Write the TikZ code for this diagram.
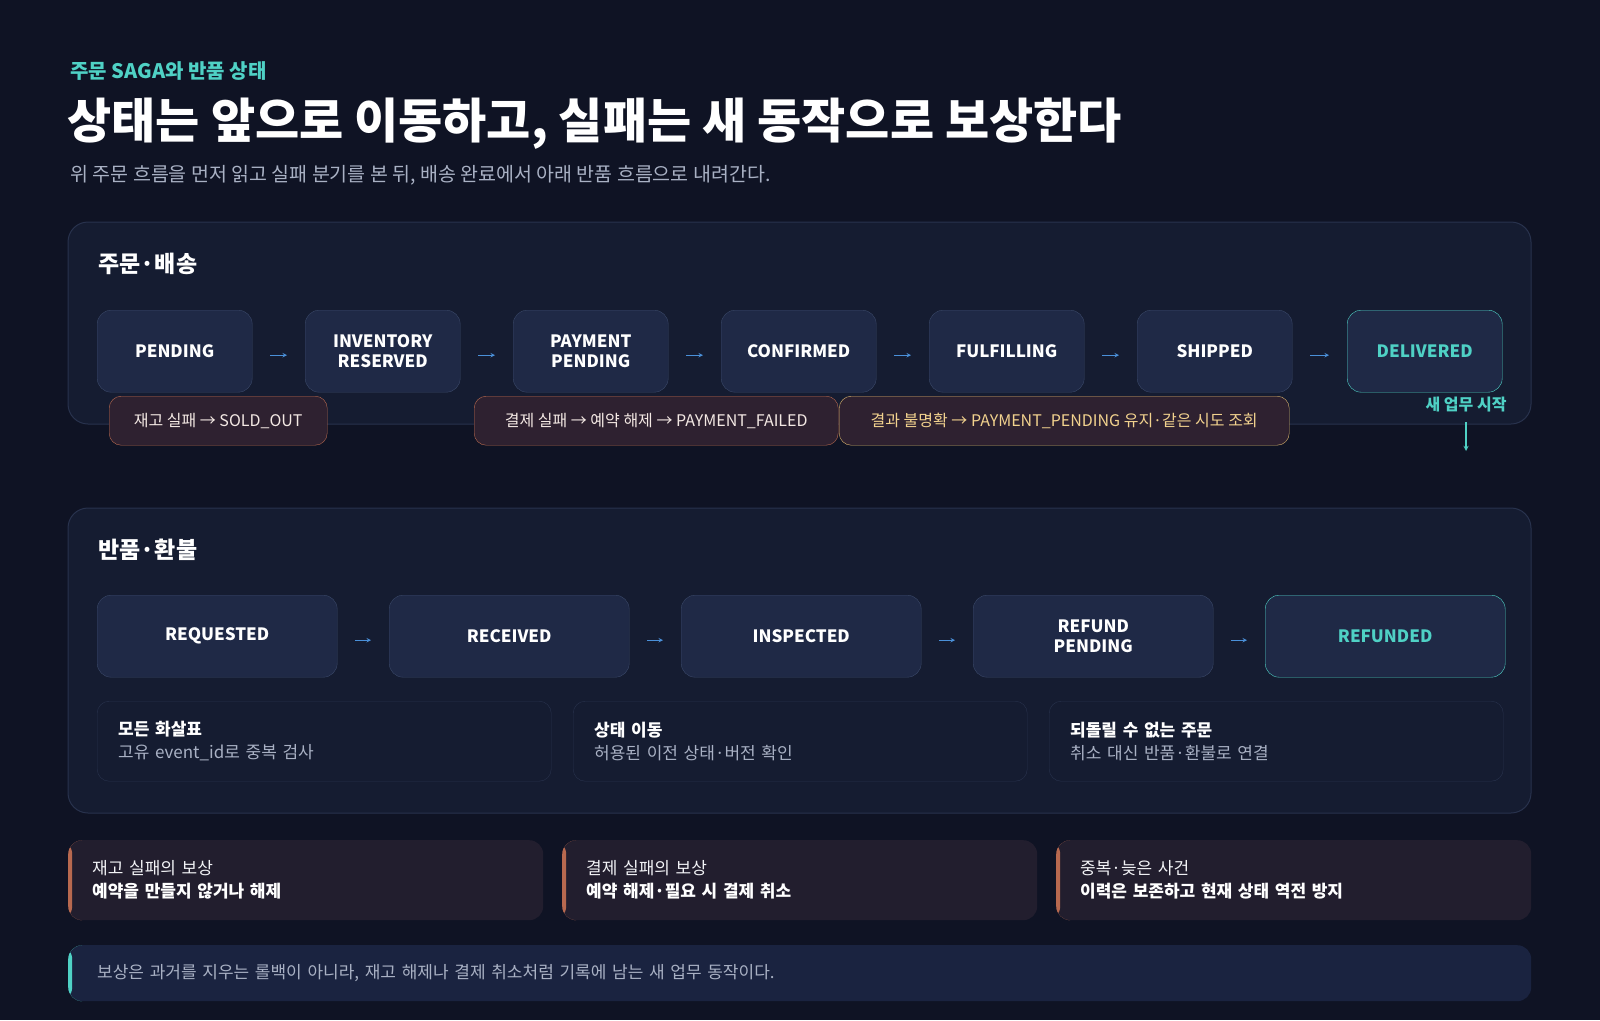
\documentclass[tikz,border=0pt]{standalone}
\usepackage{fontspec}
\setmainfont{Noto Sans CJK KR}
\usetikzlibrary{positioning}
\definecolor{bg}{HTML}{0F1324}
\definecolor{panel}{HTML}{151C31}
\definecolor{panelline}{HTML}{28324D}
\definecolor{boxfill}{HTML}{1F2946}
\definecolor{boxline}{HTML}{3A4868}
\definecolor{teal}{HTML}{4FD1C5}
\definecolor{flow}{HTML}{4A90D9}
\definecolor{muted}{HTML}{A9B1C4}
\definecolor{rust}{HTML}{B8694F}
\definecolor{rustfill}{HTML}{2E2130}
\definecolor{amber}{HTML}{D9B36C}
\definecolor{amberText}{HTML}{F2D28E}
\definecolor{cardfill}{HTML}{221E2E}
\definecolor{notefill}{HTML}{1A2340}
\tikzset{
  panel/.style={draw=panelline, fill=panel, rounded corners=20pt, line width=1pt},
  state/.style={draw=boxline, fill=boxfill, rounded corners=14pt, minimum height=82pt,
    font=\fontsize{17}{20}\selectfont\bfseries, text=white, align=center, inner sep=0pt},
  final/.style={state, draw=teal, text=teal},
  tag/.style={draw=rust, fill=rustfill, rounded corners=12pt, minimum height=49pt,
    font=\fontsize{16}{19}\selectfont, text=white!85!rust, inner sep=0pt},
  heading/.style={anchor=west, font=\fontsize{23}{26}\selectfont\bfseries, text=white},
  next/.style={->, flow, line width=1pt, >=stealth},
  info/.style={draw=panelline, fill=panel, rounded corners=12pt, minimum width=454pt,
    minimum height=80pt, inner sep=0pt, font=\fontsize{17}{23}\selectfont},
  accentcard/.style={fill=#1, rounded corners=14pt, inner sep=0pt, font=\fontsize{17}{23}\selectfont},
  accentbar/.style={path picture={\fill[#1] (path picture bounding box.north west)
    rectangle ([xshift=4pt]path picture bounding box.south west);}},
}
\begin{document}
\begin{tikzpicture}[x=1pt, y=-1pt]
\fill[bg] (0,0) rectangle (1600,1020);
\useasboundingbox (0,0) rectangle (1600,1020);
% header
\node (kicker) [anchor=west, text=teal, font=\fontsize{20}{24}\selectfont\bfseries] at (67,71) {주문 SAGA와 반품 상태};
\node (title) [anchor=west, text=white, font=\fontsize{48}{54}\selectfont\bfseries] at (64,124) {상태는 앞으로 이동하고, 실패는 새 동작으로 보상한다};
\node (lead) [anchor=west, text=muted, font=\fontsize{19.5}{22}\selectfont] at (67,175) {위 주문 흐름을 먼저 읽고 실패 분기를 본 뒤, 배송 완료에서 아래 반품 흐름으로 내려간다.};

% order panel
\draw[panel] (68,222) rectangle (1531,424);
\node (orderhead) [heading] at (95,264) {주문·배송};
\foreach \name/\label [count=\i from 0] in {pending/PENDING, invres/INVENTORY\\RESERVED,
    paypend/PAYMENT\\PENDING, confirmed/CONFIRMED, fulfilling/FULFILLING, shipped/SHIPPED}
  \node (\name) [state, minimum width=155pt, anchor=north west] at (97+208*\i,310) {\label};
\node (delivered) [final, minimum width=155pt, anchor=north west] at (1347,310) {DELIVERED};
\foreach \a/\b in {pending/invres, invres/paypend, paypend/confirmed, confirmed/fulfilling,
    fulfilling/shipped, shipped/delivered}
  \draw[next] ([xshift=18pt,yshift=-4pt]\a.east) -- ([xshift=-18pt,yshift=-4pt]\b.west);

% failure branches
\node (soldout) [tag, minimum width=218pt, anchor=north west] at (109,396) {재고 실패 → SOLD\_OUT};
\node (payfail) [tag, minimum width=364pt, anchor=north west] at (474,396) {결제 실패 → 예약 해제 → PAYMENT\_FAILED};
\node (unknown) [tag, draw=amber, text=amberText, minimum width=450pt, anchor=north west] at (839,396) {결과 불명확 → PAYMENT\_PENDING 유지·같은 시도 조회};

\node (newwork) [text=teal, font=\fontsize{16}{19}\selectfont\bfseries] at (1466,405) {새 업무 시작};
\coordinate (down) at (1466,451);
\draw[->, teal, line width=1.3pt, >=stealth] ([yshift=-6pt]newwork.south) -- (down);

% return panel
\draw[panel] (68,508) rectangle (1531,813);
\node (returnhead) [heading] at (95,550) {반품·환불};
\foreach \name/\label [count=\i from 0] in {requested/REQUESTED, received/RECEIVED,
    inspected/INSPECTED, refpend/REFUND\\PENDING}
  \node (\name) [state, minimum width=240pt, anchor=north west] at (97+292*\i,595) {\label};
\node (refunded) [final, minimum width=240pt, anchor=north west] at (1265,595) {REFUNDED};
\foreach \a/\b in {requested/received, received/inspected, inspected/refpend, refpend/refunded}
  \draw[next] ([xshift=18pt,yshift=-4pt]\a.east) -- ([xshift=-18pt,yshift=-4pt]\b.west);

\foreach \name/\head/\body [count=\i from 0] in {dedupe/모든 화살표/고유 event\_id로 중복 검사,
    move/상태 이동/허용된 이전 상태·버전 확인, norevert/되돌릴 수 없는 주문/취소 대신 반품·환불로 연결}
  \node (\name) [info, anchor=north west, align=left, text width=412pt, inner xsep=21pt] at (97+476*\i,701)
    {\textbf{\color{white}\head}\\ {\color{muted}\body}};

% compensation cards
\foreach \name/\head/\body [count=\i from 0] in {stockcomp/재고 실패의 보상/예약을 만들지 않거나 해제,
    paycomp/결제 실패의 보상/예약 해제·필요 시 결제 취소, latecomp/중복·늦은 사건/이력은 보존하고 현재 상태 역전 방지}
  \node (\name) [accentcard=cardfill, accentbar=rust, anchor=north west, minimum width=475pt,
    minimum height=80pt, align=left, text width=427pt, inner xsep=24pt] at (68+494*\i,840)
    {{\color{white!85!muted}\head}\\ \textbf{\color{white}\body}};

\node (note) [accentcard=notefill, accentbar=teal, anchor=north west, minimum width=1463pt,
  minimum height=56pt, align=left, text width=1405pt, inner xsep=29pt, text=muted] at (68,945)
  {보상은 과거를 지우는 롤백이 아니라, 재고 해제나 결제 취소처럼 기록에 남는 새 업무 동작이다.};
\end{tikzpicture}
\end{document}
